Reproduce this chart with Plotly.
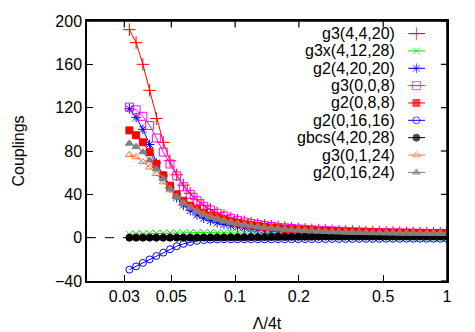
import math
import plotly.graph_objects as go

lam = [0.0317, 0.0341, 0.0367, 0.0395, 0.0425, 0.0458, 0.0493, 0.0530, 0.0570, 0.0614,
       0.0661, 0.0711, 0.0765, 0.0823, 0.0886, 0.0954, 0.1027, 0.1105, 0.1189, 0.1279,
       0.1377, 0.1482, 0.1594, 0.1716, 0.1847, 0.1988, 0.2139, 0.2302, 0.2478, 0.2667,
       0.2870, 0.3088, 0.3324, 0.3577, 0.3850, 0.4143, 0.4459, 0.4798, 0.5164, 0.5558,
       0.5981, 0.6437, 0.6928, 0.7455, 0.8024, 0.8635, 0.9293, 1.0]

g3_4_4_20 = [192, 180, 160, 136, 110, 88, 71, 58, 48.5, 41, 35, 30, 26, 22.8, 20.2, 18, 16.2, 14.7,
             13.4, 12.3, 11.3, 10.5, 9.8, 9.2, 8.6, 8.1, 7.7, 7.3, 6.9, 6.6, 6.3, 6.0, 5.8, 5.6,
             5.4, 5.2, 5.1, 4.9, 4.8, 4.7, 4.6, 4.5, 4.4, 4.3, 4.25, 4.2, 4.15, 4.1]
g3x_4_12_28 = [3.2, 3.4, 3.6, 3.8, 4.0, 4.1, 4.2, 4.3, 4.4, 4.5, 4.6, 4.6, 4.6, 4.6, 4.6, 4.6, 4.5,
               4.5, 4.4, 4.3, 4.2, 4.0, 3.8, 3.6, 3.4, 3.1, 2.8, 2.5, 2.2, 1.9, 1.6, 1.4, 1.2, 1.0,
               0.8, 0.6, 0.4, 0.3, 0.2, 0.1, 0.0, -0.1, -0.2, -0.3, -0.4, -0.4, -0.5, -0.5]
g2_4_20_20 = [119, 111, 100, 86, 69, 57, 46, 37, 30, 25, 21, 18, 15.7, 13.8, 12.3, 11, 10, 9.1,
              8.3, 7.6, 7.0, 6.5, 6.1, 5.7, 5.4, 5.1, 4.85, 4.6, 4.4, 4.2, 4.05, 3.9, 3.8, 3.7,
              3.6, 3.5, 3.45, 3.4, 3.35, 3.3, 3.25, 3.2, 3.15, 3.1, 3.05, 3.0, 2.95, 2.9]
g3_0_0_8 = [120.5, 118, 112, 103.5, 92, 79, 68, 57, 47, 40, 34, 29, 25.5, 22.5, 20, 17.8, 16,
            14.4, 13.1, 12, 11.1, 10.3, 9.6, 9.0, 8.5, 8.0, 7.6, 7.2, 6.8, 6.5, 6.2, 5.9, 5.6, 5.4,
            5.2, 5.0, 4.8, 4.7, 4.5, 4.4, 4.3, 4.2, 4.1, 4.0, 3.9, 3.85, 3.8, 3.75]
g2_0_8_8 = [99, 94.5, 88, 79, 68, 57.5, 48, 40, 34, 29.5, 26, 23, 20.4, 18.2, 16.4, 14.8, 13.5, 12.3,
            11.4, 10.6, 9.9, 9.3, 8.7, 8.2, 7.8, 7.4, 7.0, 6.7, 6.4, 6.1, 5.9, 5.7, 5.5, 5.3, 5.1,
            5.0, 4.9, 4.8, 4.7, 4.6, 4.5, 4.45, 4.4, 4.35, 4.3, 4.25, 4.2, 4.15]
g2_0_16_16 = [-29.5, -26.5, -23.3, -20.1, -16.9, -13.8, -10.7, -7.9, -5.7, -4.0, -2.9, -2.2, -1.8,
              -1.6, -1.5, -1.5, -1.5, -1.5, -1.5, -1.5, -1.5, -1.5, -1.4, -1.4, -1.4, -1.4, -1.3,
              -1.3, -1.3, -1.3, -1.2, -1.2, -1.2, -1.2, -1.1, -1.1, -1.1, -1.1, -1.0, -1.0, -1.0,
              -1.0, -1.0, -1.0, -1.0, -1.0, -1.0, -1.0]
gbcs_4_20_28 = [0, 0, 0, 0, 0, 0, 0, 0, 0, 0, 0.05, 0.1, 0.15, 0.2, 0.25, 0.3, 0.35, 0.4, 0.45,
                0.5, 0.55, 0.6, 0.65, 0.7, 0.75, 0.8, 0.85, 0.9, 0.95, 1.0, 1.0, 1.0, 1.0, 1.0,
                1.0, 1.0, 1.0, 1.0, 1.0, 1.0, 1.0, 1.0, 1.0, 1.0, 1.0, 1.0, 1.0, 1.0]
g3_0_1_24 = [76.5, 74.5, 70, 65, 59, 51.3, 44, 37.5, 32.5, 28.5, 25.3, 22.5, 20.1, 18, 16.2, 14.7,
             13.4, 12.3, 11.3, 10.5, 9.8, 9.2, 8.6, 8.1, 7.7, 7.3, 6.9, 6.6, 6.3, 6.0, 5.8, 5.6,
             5.4, 5.2, 5.1, 5.0, 4.9, 4.8, 4.7, 4.65, 4.6, 4.55, 4.5, 4.45, 4.4, 4.35, 4.3, 4.25]
g2_0_16_24 = [87, 84, 79, 71.5, 63.5, 54.5, 45.5, 38, 31.5, 27.3, 23.8, 21, 18.7, 16.8, 15.1, 13.7,
              12.5, 11.5, 10.6, 9.8, 9.1, 8.5, 8.0, 7.5, 7.1, 6.7, 6.3, 6.0, 5.7, 5.4, 5.2, 5.0,
              4.8, 4.6, 4.5, 4.4, 4.3, 4.2, 4.1, 4.0, 3.9, 3.85, 3.8, 3.75, 3.7, 3.65, 3.6, 3.55]

series_names = ["g3(4,4,20)", "g3x(4,12,28)", "g2(4,20,20)", "g3(0,0,8)", "g2(0,8,8)",
                "g2(0,16,16)", "gbcs(4,20,28)", "g3(0,1,24)", "g2(0,16,24)"]
series_values = [g3_4_4_20, g3x_4_12_28, g2_4_20_20, g3_0_0_8, g2_0_8_8,
                 g2_0_16_16, gbcs_4_20_28, g3_0_1_24, g2_0_16_24]

x_ticks = [0.03, 0.05, 0.1, 0.2, 0.5, 1]
x_ticklabels = ["0.03", "0.05", "0.1", "0.2", "0.5", "1"]
y_ticks = [-40, 0, 40, 80, 120, 160, 200]

X_RANGE = [0.02, 1.0]
Y_RANGE = [-40, 200]

styles = [
    dict(color="#ff0000", symbol="cross-thin-open", size=9),
    dict(color="#00e000", symbol="x-thin-open", size=7),
    dict(color="#0000ff", symbol="asterisk-open", size=8),
    dict(color="#ff00ff", symbol="square-open", size=8),
    dict(color="#ff0000", symbol="square", size=7),
    dict(color="#0000ff", symbol="circle-open", size=7),
    dict(color="#000000", symbol="circle", size=7),
    dict(color="#ff7038", symbol="triangle-up-open", size=7),
    dict(color="#808080", symbol="triangle-up", size=7),
]

FONT = "Liberation Sans, Arial, Helvetica, sans-serif"

fig = go.Figure()
for name, vals, st in zip(series_names, series_values, styles):
    fig.add_trace(go.Scatter(
        x=lam, y=vals, mode="lines+markers", name=name, showlegend=False,
        line=dict(color=st["color"], width=1),
        marker=dict(symbol=st["symbol"], size=st["size"], color=st["color"],
                    line=dict(color=st["color"], width=1)),
    ))


def px_to_x(p):
    lo, hi = math.log10(X_RANGE[0]), math.log10(X_RANGE[1])
    return 10 ** (lo + (hi - lo) * p)


def py_to_y(p):
    return Y_RANGE[0] + (Y_RANGE[1] - Y_RANGE[0]) * p


# custom gnuplot-style key (text left, sample right)
key_top = 0.9515
key_step = 0.0667
annotations = []
for k, (name, st) in enumerate(zip(series_names, styles)):
    yk = key_top - k * key_step
    annotations.append(dict(x=0.862, y=yk, xref="paper", yref="paper", text=name,
                            showarrow=False, xanchor="right", yanchor="middle",
                            font=dict(size=16, color="black", family=FONT)))
    fig.add_trace(go.Scatter(
        x=[px_to_x(0.892), px_to_x(0.915), px_to_x(0.939)], y=[py_to_y(yk)] * 3,
        mode="lines+markers", showlegend=False, hoverinfo="skip",
        line=dict(color=st["color"], width=1),
        marker=dict(symbol=st["symbol"], size=[0, st["size"], 0], color=st["color"],
                    line=dict(color=st["color"], width=1)),
    ))

shapes = [
    dict(type="line", xref="paper", x0=0, x1=1, yref="y", y0=0, y1=0,
         line=dict(color="black", width=1, dash="dash"), layer="below"),
    # plot frame: top and right edges
    dict(type="line", xref="paper", yref="paper", x0=0, x1=1, y0=1, y1=1,
         line=dict(color="black", width=1.5), layer="above"),
    dict(type="line", xref="paper", yref="paper", x0=1, x1=1, y0=0, y1=1,
         line=dict(color="black", width=1.5), layer="above"),
]
# mirrored ticks on top and right edges
for tv in x_ticks:
    shapes.append(dict(type="line", xref="x", yref="paper", x0=tv, x1=tv, y0=1, y1=0.975,
                       line=dict(color="black", width=1.2), layer="above"))
for tv in y_ticks:
    shapes.append(dict(type="line", xref="paper", yref="y", x0=1, x1=0.983, y0=tv, y1=tv,
                       line=dict(color="black", width=1.2), layer="above"))

fig.update_layout(
    width=475, height=332,
    margin=dict(l=87, r=28, t=21, b=51, autoexpand=False),
    paper_bgcolor="white", plot_bgcolor="white",
    font=dict(family=FONT, size=16, color="black"),
    showlegend=False,
    annotations=annotations,
    shapes=shapes,
    xaxis=dict(type="log", range=[math.log10(X_RANGE[0]), math.log10(X_RANGE[1])],
               tickvals=x_ticks, ticktext=x_ticklabels, automargin=False,
               ticks="inside", ticklen=6, tickwidth=1.2, tickcolor="black",
               showline=True, linecolor="black", linewidth=1.5, mirror=True,
               showgrid=False, zeroline=False,
               title=dict(text="Λ/4t", standoff=20, font=dict(size=16)),
               tickfont=dict(size=16)),
    yaxis=dict(range=Y_RANGE, tickvals=y_ticks, automargin=False,
               ticks="inside", ticklen=6, tickwidth=1.2, tickcolor="black",
               showline=True, linecolor="black", linewidth=1.5, mirror=True,
               showgrid=False, zeroline=False,
               title=dict(text="Couplings", standoff=26, font=dict(size=16)),
               tickfont=dict(size=16)),
)

fig.write_html("out.html", config={"displayModeBar": False},
               post_script="document.body.style.margin='0';")
